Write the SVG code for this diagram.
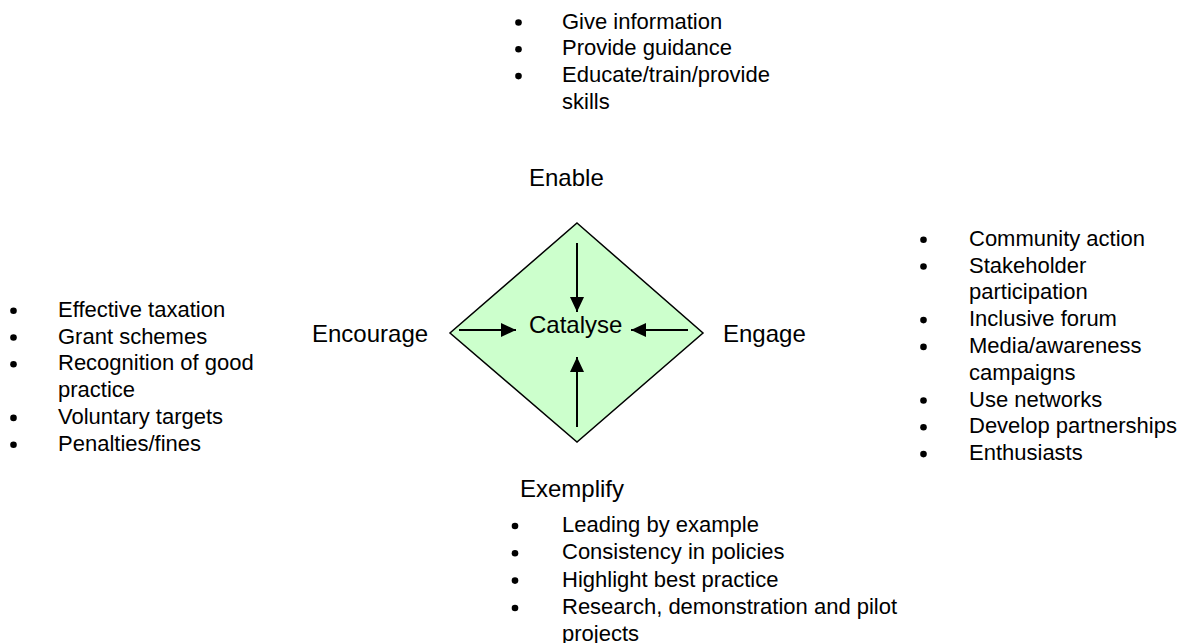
<svg xmlns="http://www.w3.org/2000/svg" width="1189" height="643" viewBox="0 0 1189 643">
<defs>
<style>
.lbl{font-family:"Liberation Sans",Arial,sans-serif;font-size:24px;fill:#000}
.b{font-family:"Liberation Sans",Arial,sans-serif;font-size:22px;fill:#000}
.dot{fill:#000}
.arr{stroke:#000;stroke-width:2;fill:none;marker-end:url(#ah)}
</style>
<marker id="ah" markerUnits="userSpaceOnUse" markerWidth="16" markerHeight="14" refX="15" refY="7" orient="auto">
<path d="M0,0 L15,7 L0,14 Z" fill="#000"/>
</marker>
</defs>
<rect width="1189" height="643" fill="#fff"/>

<g id="catalyse">
<polygon points="577,223 703,333 577,442 450,333" fill="#ccffcc" stroke="#000" stroke-width="1.5"/>
<text class="lbl" x="529" y="333">Catalyse</text>
</g>

<g id="connectors">
<line class="arr" x1="577" y1="243" x2="577" y2="312"/>
<line class="arr" x1="459" y1="330" x2="516" y2="330"/>
<line class="arr" x1="688" y1="330" x2="631" y2="330"/>
<line class="arr" x1="577" y1="427" x2="577" y2="357"/>
</g>

<g id="enable">
<text class="lbl" x="529" y="186">Enable</text>
<circle class="dot" cx="518.5" cy="22.5" r="3.3"/>
<circle class="dot" cx="518.5" cy="49.3" r="3.3"/>
<circle class="dot" cx="518.5" cy="76.1" r="3.3"/>
<text class="b" x="562" y="28.5">Give information</text>
<text class="b" x="562" y="55.3">Provide guidance</text>
<text class="b" x="562" y="82.1">Educate/train/provide</text>
<text class="b" x="562" y="108.9">skills</text>
</g>

<g id="encourage">
<text class="lbl" x="312" y="342">Encourage</text>
<circle class="dot" cx="13.5" cy="310.7" r="3.3"/>
<circle class="dot" cx="13.5" cy="337.5" r="3.3"/>
<circle class="dot" cx="13.5" cy="364.3" r="3.3"/>
<circle class="dot" cx="13.5" cy="417.9" r="3.3"/>
<circle class="dot" cx="13.5" cy="444.7" r="3.3"/>
<text class="b" x="58" y="316.7">Effective taxation</text>
<text class="b" x="58" y="343.5">Grant schemes</text>
<text class="b" x="58" y="370.3">Recognition of good</text>
<text class="b" x="58" y="397.1">practice</text>
<text class="b" x="58" y="423.9">Voluntary targets</text>
<text class="b" x="58" y="450.7">Penalties/fines</text>
</g>

<g id="engage">
<text class="lbl" x="723" y="342">Engage</text>
<circle class="dot" cx="923.5" cy="239.7" r="3.3"/>
<circle class="dot" cx="923.5" cy="266.5" r="3.3"/>
<circle class="dot" cx="923.5" cy="320.1" r="3.3"/>
<circle class="dot" cx="923.5" cy="346.9" r="3.3"/>
<circle class="dot" cx="923.5" cy="400.5" r="3.3"/>
<circle class="dot" cx="923.5" cy="427.3" r="3.3"/>
<circle class="dot" cx="923.5" cy="454.1" r="3.3"/>
<text class="b" x="969" y="245.7">Community action</text>
<text class="b" x="969" y="272.5">Stakeholder</text>
<text class="b" x="969" y="299.3">participation</text>
<text class="b" x="969" y="326.1">Inclusive forum</text>
<text class="b" x="969" y="352.9">Media/awareness</text>
<text class="b" x="969" y="379.7">campaigns</text>
<text class="b" x="969" y="406.5">Use networks</text>
<text class="b" x="969" y="433.3">Develop partnerships</text>
<text class="b" x="969" y="460.1">Enthusiasts</text>
</g>

<g id="exemplify">
<text class="lbl" x="520" y="497">Exemplify</text>
<circle class="dot" cx="515" cy="526" r="3.3"/>
<circle class="dot" cx="515" cy="553.3" r="3.3"/>
<circle class="dot" cx="515" cy="580.6" r="3.3"/>
<circle class="dot" cx="515" cy="608" r="3.3"/>
<text class="b" x="562" y="532">Leading by example</text>
<text class="b" x="562" y="559.3">Consistency in policies</text>
<text class="b" x="562" y="586.6">Highlight best practice</text>
<text class="b" x="562" y="614">Research, demonstration and pilot</text>
<text class="b" x="562" y="641.3">projects</text>
</g>
</svg>
